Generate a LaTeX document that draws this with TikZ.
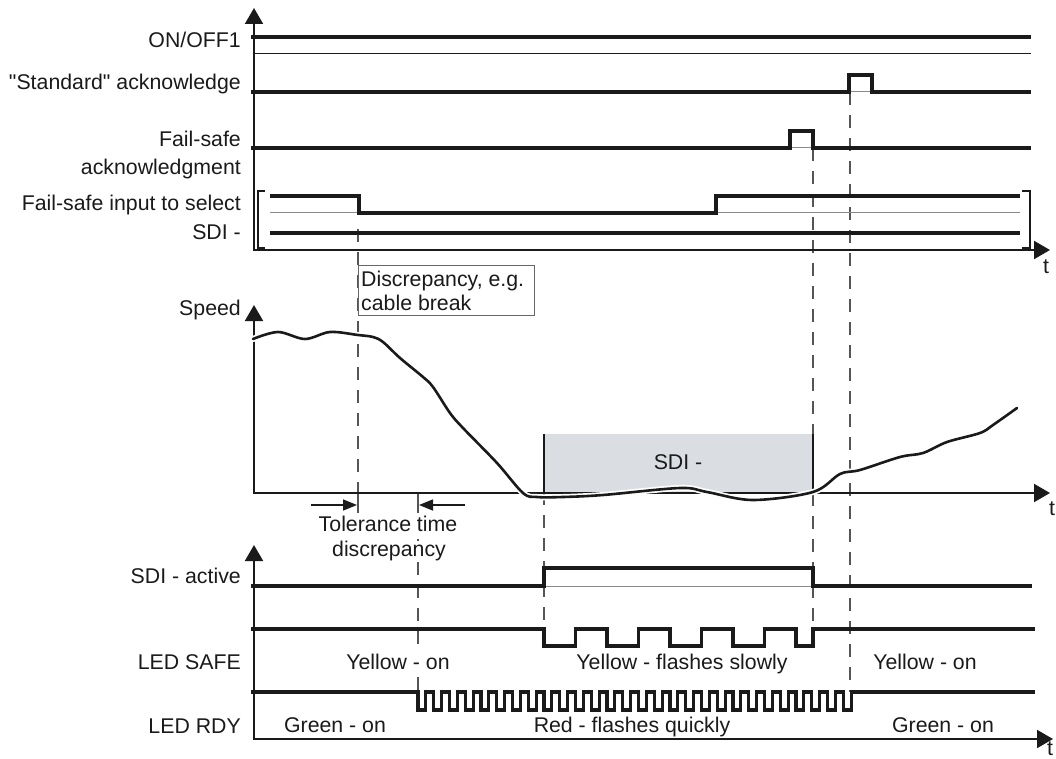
\documentclass[tikz,border=0pt]{standalone}
\usepackage{fontspec}
\setmainfont{Liberation Sans}
\usetikzlibrary{arrows.meta}
\definecolor{ink}{HTML}{1A1A1A}
\definecolor{dashc}{HTML}{555555}
\definecolor{boxfill}{HTML}{DADEE2}
\definecolor{basec}{HTML}{8A8A8A}
\definecolor{framec}{HTML}{666666}
\begin{document}
\begin{tikzpicture}[x=1pt,y=-1pt,
  sig/.style={line width=3.2pt, draw=ink, line join=miter},
  axis/.style={line width=2pt, draw=ink},
  bigtip/.tip={Triangle[length=16pt,width=18pt]},
  thinbase/.style={line width=1pt, draw=basec},
  guide/.style={line width=1.3pt, draw=dashc, dash pattern=on 13pt off 10pt},
  lbl/.style={anchor=base east, inner sep=0pt, text=ink, font=\fontsize{21.3}{24}\selectfont},
  txt/.style={anchor=base, inner sep=0pt, text=ink, font=\fontsize{21.3}{24}\selectfont},
  txtw/.style={txt, fill=white, inner xsep=1pt},
  txtl/.style={anchor=base west, inner sep=0pt, text=ink, font=\fontsize{21.3}{24}\selectfont},
  tolarrow/.style={line width=1.5pt, draw=ink, -{Triangle[length=14pt,width=11pt]}},
]
\useasboundingbox (0,0) rectangle (1056,759);

% ---------- dashed guide lines ----------
\draw[guide] (358,229) -- (358,513);
\draw[guide] (418,493) -- (418,692);
\draw[guide] (544,492) -- (544,630);
\draw[guide] (813,148) -- (813,630);
\draw[guide] (850,92) -- (850,692);
\draw[line width=1.3pt, draw=dashc] (358,493) -- (358,513);
\draw[line width=1.3pt, draw=dashc] (418,493) -- (418,513);

% ---------- top section ----------
\draw[axis, bigtip-bigtip] (254,8) -- (254,250) -- (1050,250);

% ON/OFF1
\draw[sig] (251,37) -- (1031,37);
\draw[line width=1pt, draw=ink] (255,54) -- (1031,54);
% "Standard" acknowledge
\draw[thinbase] (851,92) -- (870,92);
\draw[sig] (251,92) -- (849,92) -- (849,75) -- (872,75) -- (872,92) -- (1031,92);
% Fail-safe acknowledgment
\draw[thinbase] (792,148) -- (811,148);
\draw[sig] (251,148) -- (790,148) -- (790,131) -- (813,131) -- (813,148) -- (1031,148);
% Fail-safe input to select SDI
\draw[line width=1.3pt, draw=ink] (265,191) -- (258,191) -- (258,248) -- (265,248);
\draw[line width=1.3pt, draw=ink] (1022,191) -- (1030,191) -- (1030,248) -- (1022,248);
\draw[thinbase] (270,213) -- (359,213);
\draw[thinbase] (716,213) -- (1020,213);
\draw[sig] (270,196) -- (359,196) -- (359,213) -- (716,213) -- (716,196) -- (1020,196);
\draw[sig] (270,233) -- (1020,233);

\node[lbl] (lonoff) at (241,48) {ON/OFF1};
\node[lbl] (lstd) at (241,90) {\textquotedbl Standard\textquotedbl\ acknowledge};
\node[lbl] (lfs1) at (241,147) {Fail-safe};
\node[lbl] (lfs2) at (241,175) {acknowledgment};
\node[lbl] (lin1) at (241,211) {Fail-safe input to select};
\node[lbl] (lin2) at (241,240) {SDI -};
\node[txt] (t1) at (1046,273) {t};

% Discrepancy box
\draw[line width=1pt, draw=framec, fill=white] (358,265) rectangle (534,315);
\node[txtl] (disc1) at (361,286) {Discrepancy, e.g.};
\node[txtl] (disc2) at (361,310) {cable break};

% ---------- speed section ----------
\fill[boxfill] (544,434) rectangle (813,492);
\draw[line width=1.5pt, draw=ink] (544,434) -- (544,492);
\draw[line width=1.5pt, draw=ink] (813,434) -- (813,492);
\node[txt] (sdibox) at (678,469) {SDI -};

\draw[axis, bigtip-bigtip] (254,305) -- (254,493) -- (1050,493);

\draw[line width=6pt, white, line cap=round] plot[smooth, tension=0.55] coordinates {(253,339) (278,332) (305,339) (330,332) (358,335) (373,337) (383,342) (400,358) (423,377) (433,387) (450,413) (463,428) (497,463) (523,493) (537,497) (563,497) (603,495) (680,488) (707,492) (753,500) (813,492) (840,474) (860,470) (900,457) (923,453) (947,442) (980,433) (993,425) (1017,408)};
\draw[line width=2.6pt, draw=ink, line cap=round] plot[smooth, tension=0.55] coordinates {(253,339) (278,332) (305,339) (330,332) (358,335) (373,337) (383,342) (400,358) (423,377) (433,387) (450,413) (463,428) (497,463) (523,493) (537,497) (563,497) (603,495) (680,488) (707,492) (753,500) (813,492) (840,474) (860,470) (900,457) (923,453) (947,442) (980,433) (993,425) (1017,408)};

\node[lbl] (lspeed) at (241,315) {Speed};
\node[txt] (t2) at (1052,515) {t};

\draw[tolarrow] (311,505) -- (357,505);
\draw[tolarrow] (465,505) -- (419,505);
\node[txtw] (tol1) at (388,531) {Tolerance time};
\node[txtw] (tol2) at (389,556) {discrepancy};

% ---------- bottom section ----------
\draw[axis, bigtip-bigtip] (254,545) -- (254,739) -- (1053,739);

% SDI - active
\draw[thinbase] (546,586) -- (811,586);
\draw[sig] (251,586) -- (544,586) -- (544,568) -- (813,568) -- (813,586) -- (1032,586);
% LED SAFE
\draw[sig] (251,629) -- (544,629) -- (544,646) -- (575.5,646) -- (575.5,629) -- (607,629) -- (607,646) -- (638.5,646) -- (638.5,629) -- (670,629) -- (670,646) -- (701.5,646) -- (701.5,629) -- (733,629) -- (733,646) -- (764.5,646) -- (764.5,629) -- (796,629) -- (796,646) -- (813,646) -- (813,629) -- (1035,629);
% LED RDY
\draw[sig] (251,692) -- (418,692) \foreach \k in {0,...,27} { -- ++(0,18) -- ++(7.875,0) -- ++(0,-18) -- ++(7.875,0) } -- (1035,692);

\node[lbl] (lact) at (241,583) {SDI - active};
\node[lbl] (lsafe) at (241,669) {LED SAFE};
\node[lbl] (lrdy) at (241,733) {LED RDY};

\node[txtw] (ys1) at (398,669) {Yellow - on};
\node[txt] (ys2) at (682,669) {Yellow - flashes slowly};
\node[txt] (ys3) at (925,669) {Yellow - on};
\node[txt] (gr1) at (335,732) {Green - on};
\node[txt] (gr2) at (632,732) {Red - flashes quickly};
\node[txt] (gr3) at (943,732) {Green - on};
\node[txt] (t3) at (1050,755) {t};
\end{tikzpicture}
\end{document}
